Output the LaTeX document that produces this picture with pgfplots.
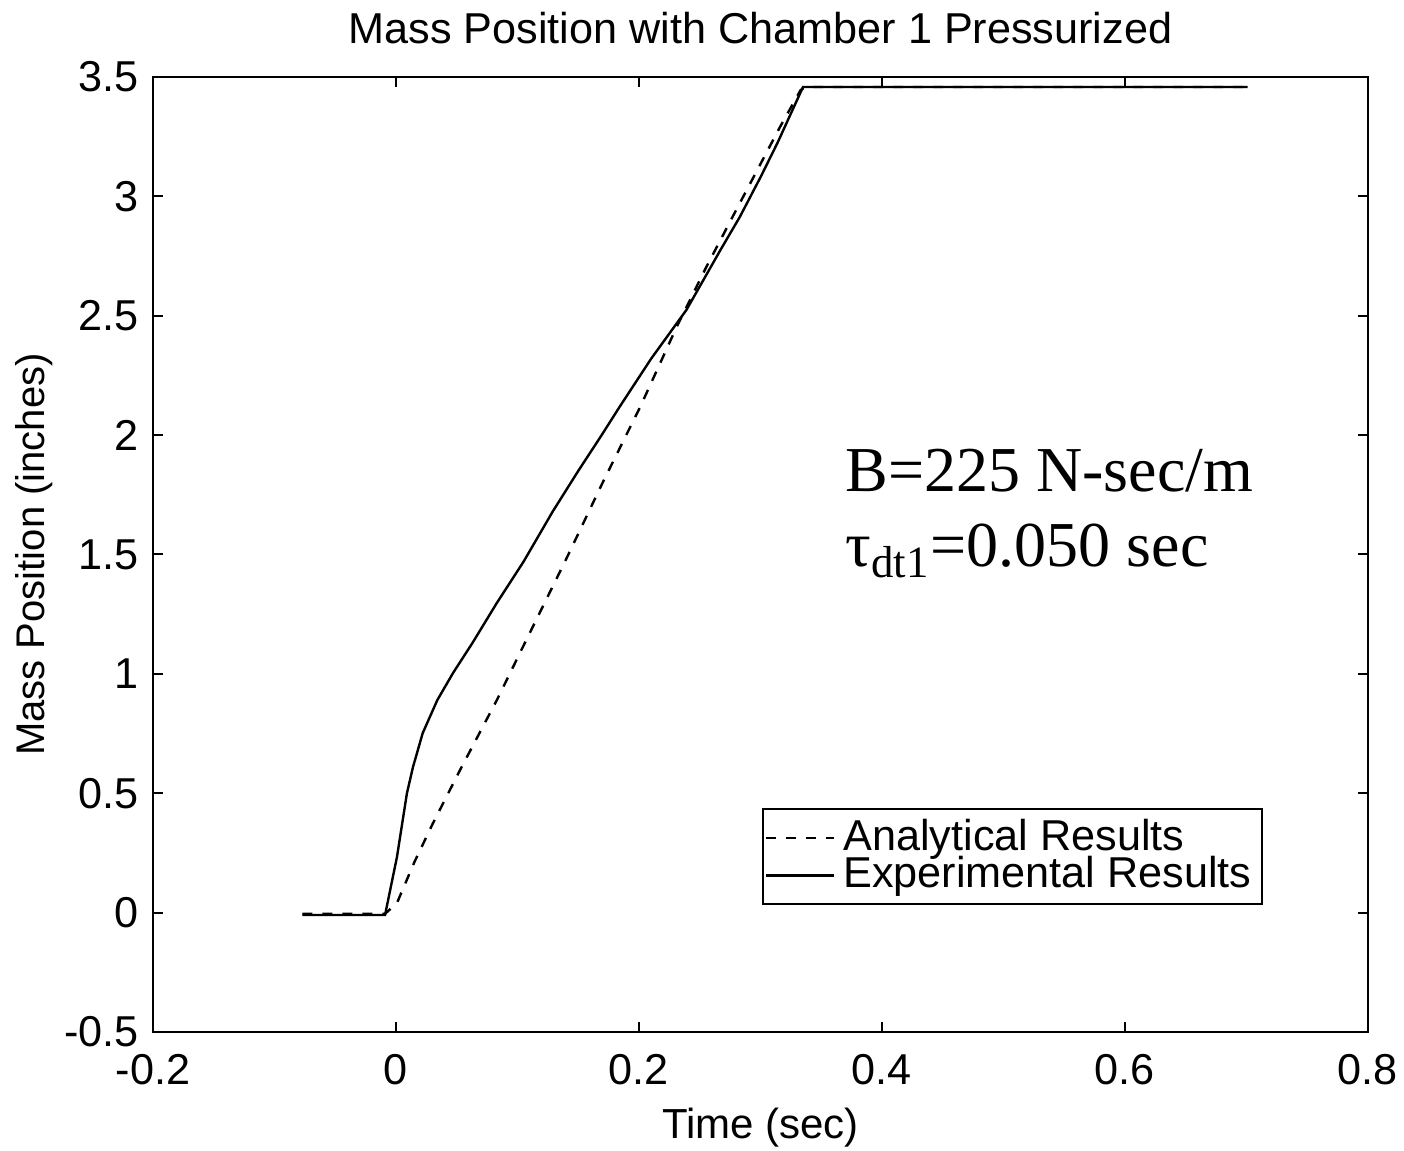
\documentclass[border=0pt]{standalone}
\usepackage{pgfplots}
\pgfplotsset{compat=1.18}
\usepackage{fontspec}
\setmainfont{Liberation Sans}
\newfontfamily\serifann{Liberation Serif}
\begin{document}
\begin{tikzpicture}
\begin{axis}[
  at={(0pt,0pt)}, anchor=south west,
  scale only axis,
  width=303.75pt, height=238.75pt,
  xmin=-0.2, xmax=0.8, ymin=-0.5, ymax=3.5,
  xtick={-0.2,0,0.2,0.4,0.6,0.8},
  xticklabels={-0.2,0,0.2,0.4,0.6,0.8},
  ytick={-0.5,0,0.5,1,1.5,2,2.5,3,3.5},
  yticklabels={-0.5,0,0.5,1,1.5,2,2.5,3,3.5},
  tick align=inside,
  major tick length=2.5pt,
  tick style={line width=0.5pt, black},
  axis line style={line width=0.5pt},
  ticklabel style={font=\fontsize{10.8}{12}\selectfont},
  xticklabel style={yshift=-2pt},
  title={Mass Position with Chamber 1 Pressurized},
  title style={font=\fontsize{10.8}{12}\selectfont, yshift=-1.3pt},
  xlabel={Time (sec)},
  ylabel={Mass Position (inches)},
  xlabel style={font=\fontsize{10.5}{12}\selectfont, yshift=1pt},
  ylabel style={font=\fontsize{10}{12}\selectfont, yshift=-4pt},
  legend style={at={(0.501,0.133)}, anchor=south west, draw=black, line width=0.5pt,
    font=\fontsize{10.8}{9}\selectfont, inner sep=0.5pt, row sep=-4pt, cells={anchor=west}},
  legend cell align=left,
]
\addplot[black, line width=0.6pt, dash pattern=on 2.5pt off 2.5pt] coordinates {
(-0.077,-0.005) (-0.009,-0.005) (0.0008,0.04) (0.015,0.21) (0.030,0.37) (0.053,0.60)
(0.083,0.89) (0.109,1.16) (0.14,1.48) (0.17,1.80) (0.201,2.118) (0.231,2.453)
(0.255,2.70) (0.277,2.914) (0.316,3.29) (0.333,3.445) (0.337,3.458) (0.701,3.458)
};
\addlegendentry{Analytical Results}
\addplot[black, line width=0.6pt] coordinates {
(-0.077,-0.01) (-0.009,-0.01) (0.0008,0.233) (0.009,0.50) (0.014,0.61) (0.022,0.752)
(0.034,0.89) (0.047,1.004) (0.063,1.13) (0.083,1.297) (0.105,1.47) (0.129,1.68)
(0.150,1.85) (0.168,1.99) (0.184,2.118) (0.210,2.32) (0.239,2.524) (0.267,2.775)
(0.283,2.914) (0.300,3.08) (0.314,3.224) (0.335,3.458) (0.701,3.458)
};
\addlegendentry{Experimental Results}
\node[anchor=base west, inner sep=0pt, font=\serifann\fontsize{16}{18}\selectfont] at (axis cs:0.3695,1.762) {B=225 N-sec/m};
\node[anchor=base west, inner sep=0pt, font=\serifann\fontsize{16}{18}\selectfont] at (axis cs:0.3695,1.448) {τ\textsubscript{dt1}=0.050 sec};
\end{axis}
\pgfresetboundingbox
\path[use as bounding box] (-38.25pt,-29.75pt) rectangle (312.75pt,258pt);
\end{tikzpicture}
\end{document}
